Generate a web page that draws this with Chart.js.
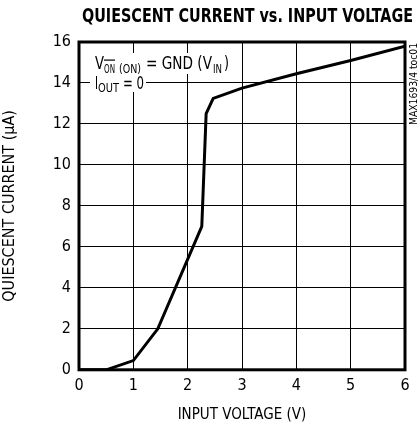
<!DOCTYPE html>
<html><head><meta charset="utf-8">
<script src="https://cdn.jsdelivr.net/npm/chart.js@4.4.1/dist/chart.umd.min.js"></script>
<style>html,body{margin:0;padding:0;background:#fff}#wrap{width:418px;height:428px}</style>
</head><body><div id="wrap"><canvas id="c" width="418" height="428"></canvas></div>
<script>
const inputVoltage = [0, 0.5, 1.0, 1.45, 2.26, 2.34, 2.47, 3.0, 4.0, 5.0, 6.0];
const quiescentCurrent = [0, 0, 0.45, 2.0, 7.0, 12.5, 13.25, 13.75, 14.45, 15.1, 15.8];
const xTicks = [0, 1, 2, 3, 4, 5, 6];
const yTicks = [0, 2, 4, 6, 8, 10, 12, 14, 16];
const titleText = 'QUIESCENT CURRENT vs. INPUT VOLTAGE';
const xTitle = 'INPUT VOLTAGE (V)';
const yTitle = 'QUIESCENT CURRENT (\u00B5A)';
const tocLabel = 'MAX1693/4 toc01';

const FAM = "'Liberation Sans Narrow','DejaVu Sans Condensed',Arial,sans-serif";

function fitText(ctx, txt, x, y, w) {
  const m = ctx.measureText(txt).width;
  ctx.save();
  ctx.translate(x, y);
  ctx.scale(w / m, 1);
  ctx.fillText(txt, 0, 0);
  ctx.restore();
}

const frame = {
  id: 'frame',
  afterDatasetsDraw(chart) {
    const {ctx, chartArea: a} = chart;
    ctx.save();
    ctx.lineWidth = 3;
    ctx.strokeStyle = '#000';
    ctx.strokeRect(a.left, a.top, a.right - a.left, a.bottom - a.top);
    ctx.restore();
  },
  afterDraw(chart) {
    const ctx = chart.ctx;
    ctx.save();
    ctx.fillStyle = '#000';
    ctx.textBaseline = 'alphabetic';
    // title
    ctx.font = 'bold 19px ' + FAM;
    fitText(ctx, titleText, 82, 22, 331);
    // annotation boxes
    ctx.fillStyle = '#fff';
    ctx.fillRect(90, 53, 142, 21);
    ctx.fillRect(90, 74, 56, 18);
    ctx.fillStyle = '#000';
    const big = '17px ' + FAM, small = '13px ' + FAM;
    // line 1
    ctx.font = big; fitText(ctx, 'V', 95, 69, 9);
    ctx.font = small; fitText(ctx, 'ON', 104, 73, 11);
    ctx.fillRect(104, 59.5, 11, 1.2);
    fitText(ctx, '(ON)', 119, 73, 22);
    ctx.font = big; fitText(ctx, '= GND (V', 146, 69, 66);
    ctx.font = small; fitText(ctx, 'IN', 213, 73, 9);
    ctx.font = big; fitText(ctx, ')', 224, 69, 5);
    // line 2
    ctx.font = big; fitText(ctx, 'I', 95, 89, 3);
    ctx.font = small; fitText(ctx, 'OUT', 98, 92, 21);
    ctx.font = big; fitText(ctx, '= 0', 123, 89, 21);
    // toc label
    ctx.translate(414, 43);
    ctx.rotate(-Math.PI / 2);
    ctx.font = '10.5px ' + FAM;
    ctx.textAlign = 'left';
    ctx.textBaseline = 'middle';
    const tw = ctx.measureText(tocLabel).width;
    ctx.scale(82 / tw, 1);
    ctx.fillText(tocLabel, -tw, 0);
    ctx.restore();
  }
};

new Chart(document.getElementById('c'), {
  type: 'line',
  data: {
    datasets: [{
      data: inputVoltage.map((v, i) => ({x: v, y: quiescentCurrent[i]})),
      borderColor: '#000',
      borderWidth: 3,
      pointRadius: 0,
      tension: 0,
      fill: false
    }]
  },
  options: {
    responsive: false,
    animation: false,
    devicePixelRatio: 1,
    layout: {padding: {left: 0, right: 13, top: 42, bottom: 4}},
    plugins: {
      legend: {display: false},
      tooltip: {enabled: false},
      title: {display: false}
    },
    scales: {
      x: {
        type: 'linear',
        min: 0, max: 6,
        afterBuildTicks: s => { s.ticks = xTicks.map(v => ({value: v})); },
        ticks: {color: '#000', font: {family: FAM, size: 16}, padding: 6, maxRotation: 0},
        grid: {color: '#000', lineWidth: 1, drawTicks: false},
        border: {display: false},
        title: {display: true, text: xTitle, color: '#000', font: {family: FAM, size: 15}, padding: {top: 5, bottom: 0}}
      },
      y: {
        type: 'linear',
        min: 0, max: 16,
        afterBuildTicks: s => { s.ticks = yTicks.map(v => ({value: v})); },
        afterFit: s => { s.width = 79; },
        ticks: {color: '#000', font: {family: FAM, size: 16}, padding: 8},
        grid: {color: '#000', lineWidth: 1, drawTicks: false},
        border: {display: false},
        title: {display: true, text: yTitle, color: '#000', font: {family: FAM, size: 16}, padding: {top: 0, bottom: 4}}
      }
    }
  },
  plugins: [frame]
});
</script></body></html>
